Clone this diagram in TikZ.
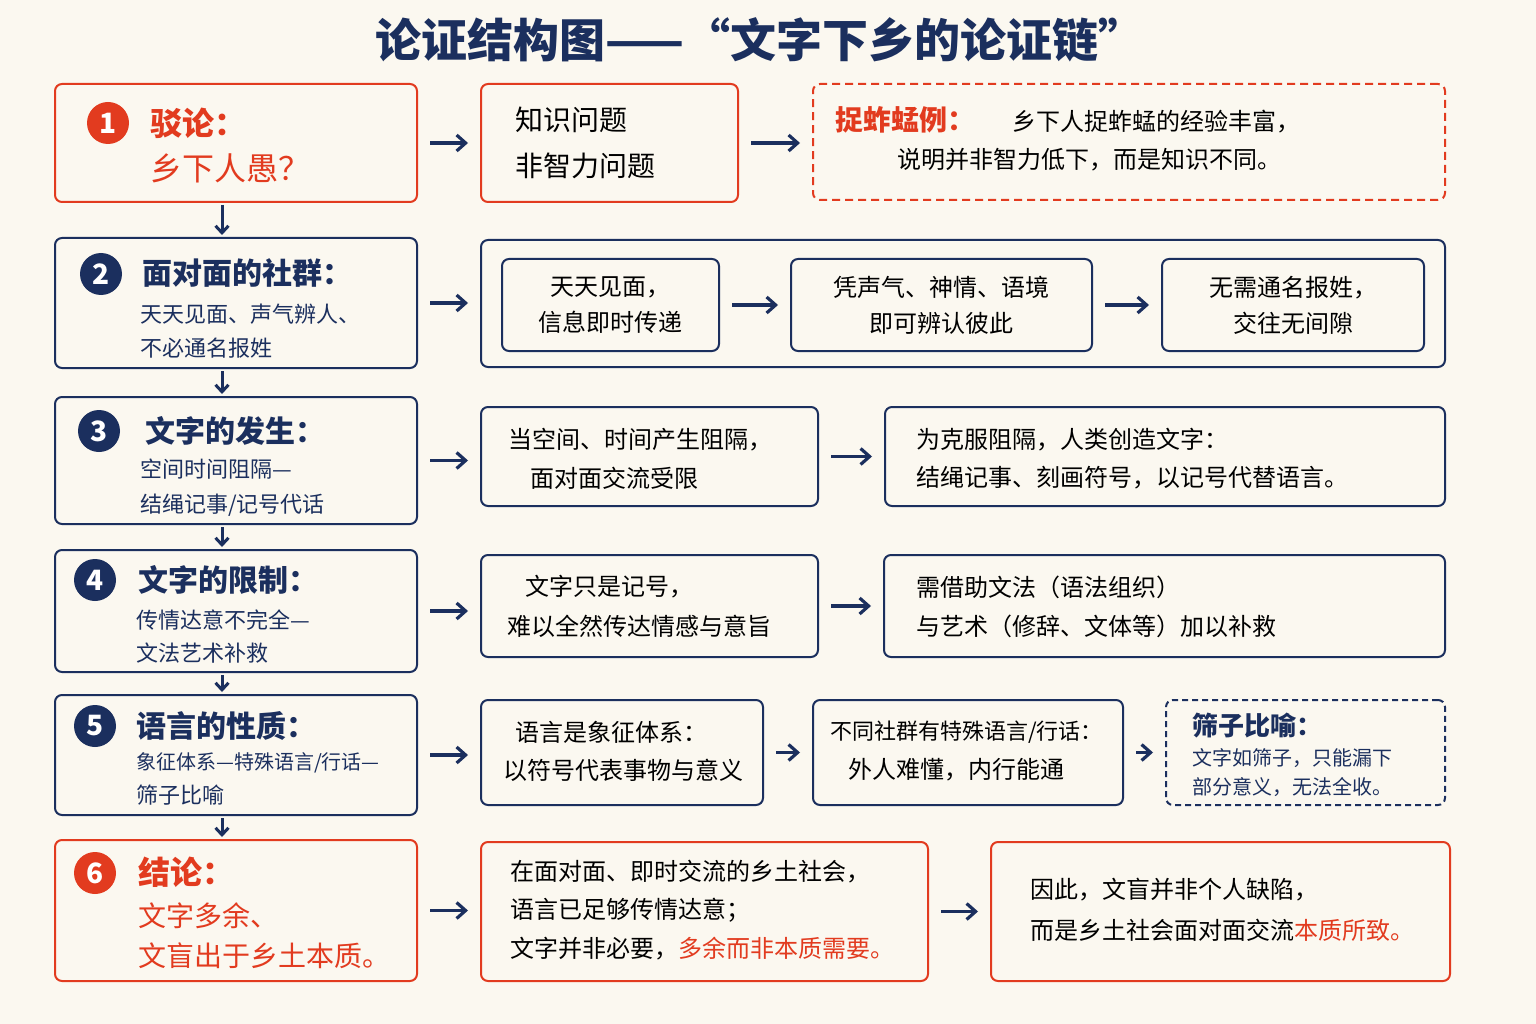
\documentclass[tikz,border=0pt]{standalone}
\usepackage{fontspec}
\setmainfont{Noto Sans CJK SC}
\usetikzlibrary{arrows.meta}
\definecolor{navy}{HTML}{1B2F5E}
\definecolor{hred}{HTML}{E23B1F}
\definecolor{bg}{HTML}{FBF8F0}
\tikzset{
  box/.style={draw=navy, line width=2pt, rounded corners=7pt, fill=bg, inner sep=0pt},
  rbox/.style={box, draw=hred},
  arrow/.style={draw=navy, line width=3.2pt, -{Straight Barb[length=9pt,width=16pt]}, shorten <=12pt, shorten >=12pt},
  varrow/.style={draw=navy, line width=3pt, -{Straight Barb[length=7pt,width=13pt]}, shorten <=2pt, shorten >=2pt},
  num/.style={circle, minimum size=42pt, inner sep=0pt, text=white, font=\fontsize{28}{30}\selectfont\bfseries},
  txt/.style={anchor=west, inner sep=0pt, text=black},
}
\newcommand\fs[1]{\fontsize{#1}{#1}\selectfont}
\newcommand\mkbox[6]{\node[#2, minimum width={(#5-#3)*1pt}, minimum height={(#6-#4)*1pt}] (#1) at ({(#3+#5)/2},{(#4+#6)/2}) {};}
\begin{document}
\begin{tikzpicture}[x=1pt, y=-1pt]
      \useasboundingbox[fill=bg] (0,0) rectangle (1536,1024);
      \node at (760,40) [text=navy, font=\fs{46}\bfseries] {论证结构图——“文字下乡的论证链”};

      % row 1
      \mkbox{l1}{rbox}{55}{84}{417}{202}
      \mkbox{b1a}{rbox}{481}{84}{738}{202}
      \mkbox{b1b}{rbox, dashed, dash pattern=on 8pt off 5pt}{813}{84}{1445}{200}
      \node[num, fill=hred] (n1) at (108,123) {1};
      \node at (150,123) [txt, text=hred, font=\fs{32}\bfseries] {驳论：};
      \node at (150,168) [txt, text=hred, font=\fs{32}] {乡下人愚？};
      \node at (515,120) [txt, font=\fs{28}] {知识问题};
      \node at (515,166) [txt, font=\fs{28}] {非智力问题};
      \node at (835,120) [txt, text=hred, font=\fs{28}\bfseries] {捉蚱蜢例：};
      \node at (1012,122) [txt, font=\fs{24}] {乡下人捉蚱蜢的经验丰富，};
      \node at (897,160) [txt, font=\fs{24}] {说明并非智力低下，而是知识不同。};

      % row 2
      \mkbox{l2}{box}{55}{238}{417}{368}
      \mkbox{b2}{box}{481}{240}{1445}{367}
      \mkbox{b2a}{box}{502}{259}{719}{351}
      \mkbox{b2b}{box}{791}{259}{1092}{351}
      \mkbox{b2c}{box}{1162}{259}{1424}{351}
      \node[num, fill=navy] (n2) at (101,274) {2};
      \node at (142,273) [txt, text=navy, font=\fs{30}\bfseries] {面对面的社群：};
      \node at (140,314) [txt, text=navy, font=\fs{22}] {天天见面、声气辨人、};
      \node at (140,348) [txt, text=navy, font=\fs{22}] {不必通名报姓};
      \node at (b2a) [align=center, font=\fs{24}\linespread{1.5}\selectfont] {天天见面，\\信息即时传递};
      \node at (b2b) [align=center, font=\fs{24}\linespread{1.5}\selectfont] {凭声气、神情、语境\\即可辨认彼此};
      \node at (b2c) [align=center, font=\fs{24}\linespread{1.5}\selectfont] {无需通名报姓，\\交往无间隙};

      % row 3
      \mkbox{l3}{box}{55}{397}{417}{524}
      \mkbox{b3a}{box}{481}{407}{818}{506}
      \mkbox{b3b}{box}{885}{407}{1445}{506}
      \node[num, fill=navy] (n3) at (99,431) {3};
      \node at (145,431) [txt, text=navy, font=\fs{30}\bfseries] {文字的发生：};
      \node at (140,469) [txt, text=navy, font=\fs{22}] {空间时间阻隔—};
      \node at (140,505) [txt, text=navy, font=\fs{22}] {结绳记事/记号代话};
      \node at (508,440) [txt, font=\fs{24}] {当空间、时间产生阻隔，};
      \node at (530,478) [txt, font=\fs{24}] {面对面交流受限};
      \node at (916,440) [txt, font=\fs{24}] {为克服阻隔，人类创造文字：};
      \node at (916,478) [txt, font=\fs{24}] {结绳记事、刻画符号，以记号代替语言。};

      % row 4
      \mkbox{l4}{box}{55}{550}{417}{672}
      \mkbox{b4a}{box}{481}{555}{818}{657}
      \mkbox{b4b}{box}{884}{555}{1445}{657}
      \node[num, fill=navy] (n4) at (95,580) {4};
      \node at (138,580) [txt, text=navy, font=\fs{30}\bfseries] {文字的限制：};
      \node at (136,620) [txt, text=navy, font=\fs{22}] {传情达意不完全—};
      \node at (136,653) [txt, text=navy, font=\fs{22}] {文法艺术补救};
      \node at (525,587) [txt, font=\fs{24}] {文字只是记号，};
      \node at (507,626) [txt, font=\fs{24}] {难以全然传达情感与意旨};
      \node at (916,587) [txt, font=\fs{24}] {需借助文法（语法组织）};
      \node at (916,626) [txt, font=\fs{24}] {与艺术（修辞、文体等）加以补救};

      % row 5
      \mkbox{l5}{box}{55}{695}{417}{815}
      \mkbox{b5a}{box}{481}{700}{763}{805}
      \mkbox{b5b}{box}{813}{700}{1123}{805}
      \mkbox{b5c}{box, dashed, dash pattern=on 6pt off 4pt}{1166}{700}{1445}{805}
      \node[num, fill=navy] (n5) at (95,726) {5};
      \node at (136,726) [txt, text=navy, font=\fs{30}\bfseries] {语言的性质：};
      \node at (136,763) [txt, text=navy, font=\fs{20}] {象征体系—特殊语言/行话—};
      \node at (136,795) [txt, text=navy, font=\fs{22}] {筛子比喻};
      \node at (515,732) [txt, font=\fs{24}] {语言是象征体系：};
      \node at (503,770) [txt, font=\fs{24}] {以符号代表事物与意义};
      \node at (830,732) [txt, font=\fs{22}] {不同社群有特殊语言/行话：};
      \node at (848,770) [txt, font=\fs{24}] {外人难懂，内行能通};
      \node at (1192,726) [txt, text=navy, font=\fs{26}\bfseries] {筛子比喻：};
      \node at (1192,758) [txt, text=navy, font=\fs{20}] {文字如筛子，只能漏下};
      \node at (1192,787) [txt, text=navy, font=\fs{20}] {部分意义，无法全收。};

      % row 6
      \mkbox{l6}{rbox}{55}{840}{417}{981}
      \mkbox{b6a}{rbox}{481}{842}{928}{981}
      \mkbox{b6b}{rbox}{991}{842}{1450}{981}
      \node[num, fill=hred] (n6) at (95,873) {6};
      \node at (138,872) [txt, text=hred, font=\fs{32}\bfseries] {结论：};
      \node at (138,916) [txt, text=hred, font=\fs{28}] {文字多余、};
      \node at (138,956) [txt, text=hred, font=\fs{28}] {文盲出于乡土本质。};
      \node at (510,872) [txt, font=\fs{24}] {在面对面、即时交流的乡土社会，};
      \node at (510,910) [txt, font=\fs{24}] {语言已足够传情达意；};
      \node at (510,949) [txt, font=\fs{24}] {文字并非必要，\textcolor{hred}{多余而非本质需要。}};
      \node at (1030,890) [txt, font=\fs{24}] {因此，文盲并非个人缺陷，};
      \node at (1030,930) [txt, font=\fs{24}] {而是乡土社会面对面交流\textcolor{hred}{本质所致。}};

      % arrows
      \foreach \a/\b in {l1/b1a, b1a/b1b, l2/b2, b2a/b2b, b2b/b2c, l3/b3a, b3a/b3b,
                         l4/b4a, b4a/b4b, l5/b5a, b5a/b5b, b5b/b5c, l6/b6a, b6a/b6b}
        \draw[arrow] (\a.east) -- (\a.east -| \b.west);
      \foreach \a/\b in {l1/l2, l2/l3, l3/l4, l4/l5, l5/l6}
        \draw[varrow] ([xshift=-14pt]\a.south) -- ([xshift=-14pt]\b.north);
    \end{tikzpicture}
\end{document}
